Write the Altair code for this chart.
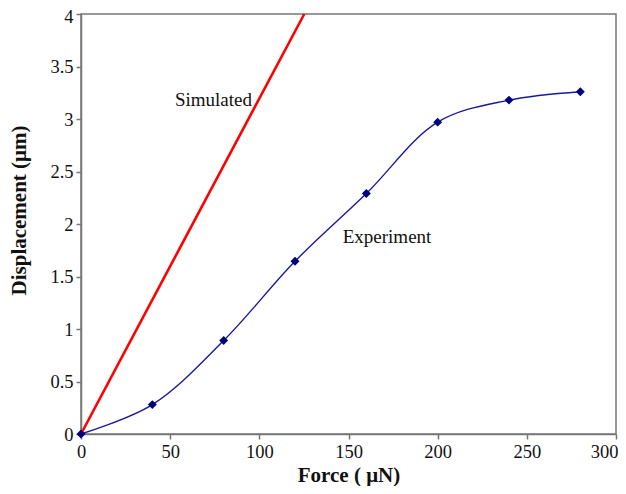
import altair as alt
import pandas as pd

exp_force = [0, 40, 80, 120, 160, 200, 240, 280]
exp_disp = [0.0, 0.28, 0.89, 1.645, 2.29, 2.97, 3.18, 3.26]
sim_force = [0, 125.2]
sim_disp = [0.0, 4.0]
label_text = ["Simulated", "Experiment"]
label_x = [74.3, 171.6]
label_y = [3.18, 1.875]

exp = pd.DataFrame({"force": exp_force, "disp": exp_disp})
sim = pd.DataFrame({"force": sim_force, "disp": sim_disp})
labels = pd.DataFrame({"text": label_text, "force": label_x, "disp": label_y})

FONT = "Liberation Serif"
AX = "#777777"

xenc = alt.X("force:Q", scale=alt.Scale(domain=[0, 300], nice=False),
             axis=alt.Axis(title="Force ( μN)", values=[0, 50, 100, 150, 200, 250, 300],
                           format="d",
                           labelAlign={"condition": {"test": "datum.value >= 300", "value": "right"},
                                       "value": "center"},
                           labelOffset={"condition": {"test": "datum.value >= 300", "value": 2},
                                        "value": 0}))
yenc = alt.Y("disp:Q", scale=alt.Scale(domain=[0, 4], nice=False),
             axis=alt.Axis(title="Displacement (μm)", format="~g", titleY=196,
                           values=[0, 0.5, 1, 1.5, 2, 2.5, 3, 3.5, 4],
                           labelOffset={"condition": {"test": "datum.value >= 4", "value": 2},
                                        "value": 0}))

sim_line = alt.Chart(sim).mark_line(color="#ff0000", strokeWidth=2.6).encode(x=xenc, y=yenc)
exp_line = alt.Chart(exp).mark_line(color="#1a1a99", strokeWidth=1.4,
                                    interpolate="catmull-rom").encode(x="force:Q", y="disp:Q")
exp_pts = alt.Chart(exp).mark_point(shape="diamond", filled=True, color="#00007a",
                                    size=80, opacity=1).encode(x="force:Q", y="disp:Q")
txt = alt.Chart(labels).mark_text(font=FONT, fontSize=19, color="#111111",
                                  align="center", baseline="middle").encode(
    x="force:Q", y="disp:Q", text="text:N")

chart = (sim_line + exp_line + exp_pts + txt).properties(
    width=535, height=420,
    autosize=alt.AutoSizeParams(type="none"),
    padding={"left": 73, "top": 6, "right": 2, "bottom": 52},
).configure_view(stroke=AX, strokeWidth=1.5).configure_axis(
    grid=False, domainColor=AX, domainWidth=1.5, tickColor=AX, tickWidth=1.5, tickSize=5,
    labelFont=FONT, labelFontSize=18.5, labelColor="#111111", labelPadding=3,
    titleFont=FONT, titleFontSize=21, titleFontWeight="bold", titleColor="#111111",
).configure_axisX(titlePadding=4, labelFlush=False).configure_axisY(titlePadding=20)

chart.save("out.html", embed_options={"renderer": "svg", "actions": False})
